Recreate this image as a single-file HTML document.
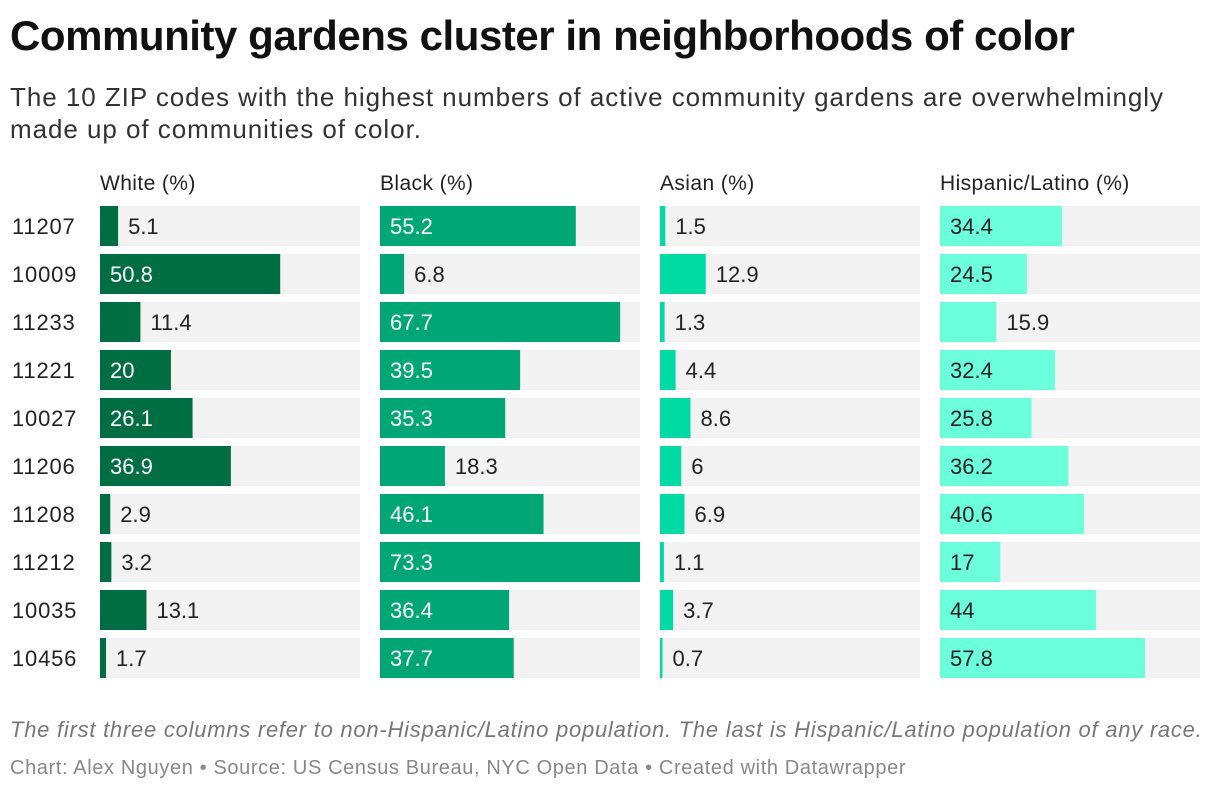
<!DOCTYPE html>
<html><head><meta charset="utf-8"><style>
body{margin:0;width:1220px;height:792px;background:#fff;font-family:"Liberation Sans",sans-serif;overflow:hidden;position:relative;color:#222}
.t{position:absolute;white-space:nowrap}
</style></head><body>
<div class="t" style="left:10px;top:12px;font-size:42px;font-weight:bold;color:#111;letter-spacing:-0.45px">Community gardens cluster in neighborhoods of color</div>
<div class="t" style="left:10px;top:81px;font-size:26px;line-height:32px;color:#333;letter-spacing:0.95px">The 10 ZIP codes with the highest numbers of active community gardens are overwhelmingly<br>made up of communities of color.</div>
<svg id="c" width="1220" height="700" style="position:absolute;left:0;top:0"></svg>
<div class="t" style="left:10px;top:717px;font-size:22px;font-style:italic;color:#777;letter-spacing:0.75px">The first three columns refer to non-Hispanic/Latino population. The last is Hispanic/Latino population of any race.</div>
<div class="t" style="left:10px;top:757px;font-size:20px;color:#888;letter-spacing:0.62px">Chart: Alex Nguyen • Source: US Census Bureau, NYC Open Data • Created with Datawrapper</div>
<script>
const zips=["11207","10009","11233","11221","10027","11206","11208","11212","10035","10456"];
const columns=["White (%)","Black (%)","Asian (%)","Hispanic/Latino (%)"];
const white=[5.1,50.8,11.4,20,26.1,36.9,2.9,3.2,13.1,1.7];
const black=[55.2,6.8,67.7,39.5,35.3,18.3,46.1,73.3,36.4,37.7];
const asian=[1.5,12.9,1.3,4.4,8.6,6,6.9,1.1,3.7,0.7];
const hispanic=[34.4,24.5,15.9,32.4,25.8,36.2,40.6,17,44,57.8];
const series=[white,black,asian,hispanic];
const colors=["#006d43","#00a673","#00dba5","#6bffdb"];
const insideText=["#fff","#fff","#fff","#222"];
const svg=document.getElementById('c');const NS="http://www.w3.org/2000/svg";
const maxV=Math.max(...series.flat());
const colX=i=>100+i*280, colW=260;
const x=v=>v/maxV*colW;
const y=i=>206+i*48;
function el(t,a,txt){const e=document.createElementNS(NS,t);for(const k in a)e.setAttribute(k,a[k]);if(txt!=null)e.textContent=txt;svg.appendChild(e);return e;}
function tw(s){let w=0;for(const ch of s)w+=ch=='.'?6:12;return w;}
zips.forEach((z,i)=>{const e=el('text',{x:12,y:y(i)+28,'font-size':22,fill:'#222','letter-spacing':0.8},z);

});
columns.forEach((c,j)=>{const h=el('text',{x:colX(j),y:190,'font-size':21,fill:'#222','letter-spacing':0.4},c);


series[j].forEach((v,i)=>{
const bg=el('rect',{x:colX(j),y:y(i),width:colW,height:40,fill:'#f2f2f2'});


const w=x(v);
const b=el('rect',{x:colX(j),y:y(i),width:w,height:40,fill:colors[j]});


const s=String(v);const inside=tw(s)+27<w;
const t=el('text',{x:inside?colX(j)+10:colX(j)+w+10,y:y(i)+28,'font-size':22,fill:inside?insideText[j]:'#222'},s);


});});
</script>
</body></html>
